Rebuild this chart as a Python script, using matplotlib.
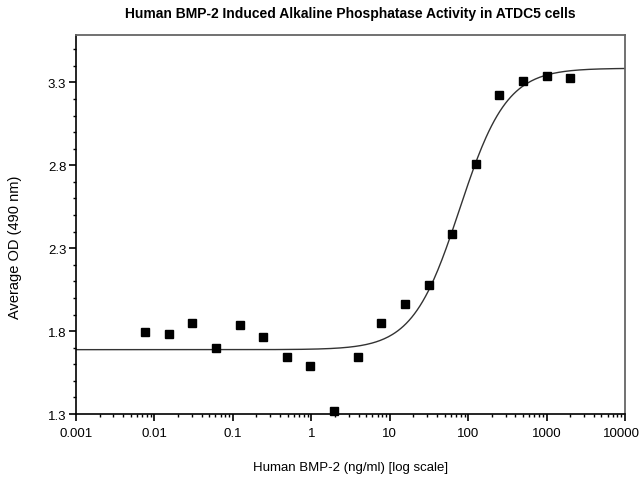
import numpy as np
import matplotlib
matplotlib.use("Agg")
import matplotlib.pyplot as plt
import matplotlib.transforms as transforms
from matplotlib.ticker import LogLocator, NullFormatter, MultipleLocator, FixedLocator

# ---------- data ----------
conc = [0.0076, 0.0153, 0.0305, 0.061, 0.122, 0.244, 0.488, 0.977, 1.95, 3.9,
        7.8, 15.6, 31.25, 62.5, 125, 250, 500, 1000, 2000]
od = [1.793, 1.784, 1.849, 1.696, 1.837, 1.766, 1.642, 1.590, 1.318, 1.642,
      1.849, 1.962, 2.080, 2.386, 2.806, 3.224, 3.307, 3.340, 3.325]

# 4PL fit parameters (bottom, top, EC50, hill) as drawn in the reference
fit_bottom = 1.688
fit_top = 3.385
fit_ec50 = 78.0
fit_hill = 1.45

x_ticks = [0.001, 0.01, 0.1, 1, 10, 100, 1000, 10000]
x_tick_labels = ["0.001", "0.01", "0.1", "1", "10", "100", "1000", "10000"]
y_ticks = [1.3, 1.8, 2.3, 2.8, 3.3]

plt.rcParams['font.family'] = ['Liberation Sans', 'DejaVu Sans']

fig = plt.figure(figsize=(6.41, 4.81), dpi=100)
ax = fig.add_axes([0.1186, 0.1372, 0.9750 - 0.1186, 0.925 - 0.1372])

# fitted curve
xs = np.logspace(-3, 4, 400)
ys = fit_bottom + (fit_top - fit_bottom) / (1 + (fit_ec50 / xs) ** fit_hill)
ax.plot(xs, ys, color="#333333", linewidth=1.0, zorder=2)

# data points
ax.plot(conc, od, linestyle="none", marker="s", markersize=5.2,
        color="black", zorder=3, clip_on=False)

ax.set_xscale("log")
ax.set_xlim(0.001, 10000)
ax.set_ylim(1.3, 3.585)

ax.xaxis.set_major_locator(FixedLocator(x_ticks))
ax.set_xticklabels(x_tick_labels)
ax.xaxis.set_minor_locator(LogLocator(base=10, subs=np.arange(2, 10)))
ax.xaxis.set_minor_formatter(NullFormatter())

ax.yaxis.set_major_locator(FixedLocator(y_ticks))
ax.set_yticklabels([f"{v:.1f}" for v in y_ticks])
ax.yaxis.set_minor_locator(MultipleLocator(0.1))

ax.tick_params(axis="both", which="major", direction="out", length=5, width=1.2,
               labelsize=9.5, colors="black", pad=2)
ax.tick_params(axis="both", which="minor", direction="out", length=2.5, width=1.0)
ax.tick_params(axis="x", which="major", pad=4)

# nudge the last x label so it stays inside the picture
last = ax.get_xticklabels()[-1]
last.set_transform(last.get_transform() +
                   transforms.ScaledTranslation(-4 / 100, 0, fig.dpi_scale_trans))

for side in ["left", "bottom"]:
    ax.spines[side].set_color("black")
    ax.spines[side].set_linewidth(1.2)
for side in ["top", "right"]:
    ax.spines[side].set_color("#666666")
    ax.spines[side].set_linewidth(1.3)

ax.set_title("Human BMP-2 Induced Alkaline Phosphatase Activity in ATDC5 cells",
             fontsize=10, fontweight="bold", pad=13)
ax.set_xlabel("Human BMP-2 (ng/ml) [log scale]", fontsize=9.5, labelpad=16)
fig.text(0.024, 0.485, "Average OD (490 nm)", rotation=90, fontsize=10.5,
         ha="center", va="center")

fig.savefig("out.png", dpi=100)
